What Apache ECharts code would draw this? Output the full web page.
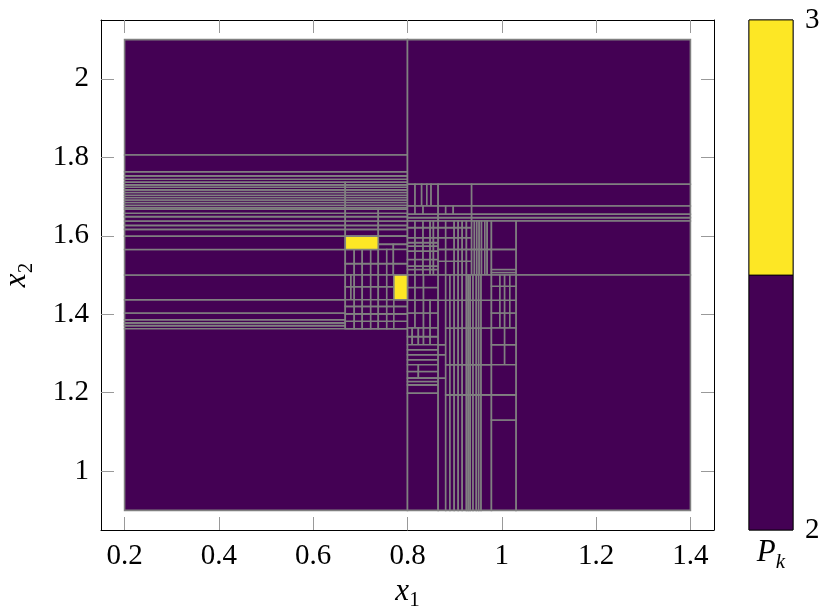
<!DOCTYPE html>
<html>
<head>
<meta charset="utf-8">
<script src="https://cdn.jsdelivr.net/npm/echarts@6.0.0/dist/echarts.min.js"></script>
<style>
  html, body { margin: 0; padding: 0; background: #fff; }
  #chart { width: 831px; height: 612px; }
</style>
</head>
<body>
<div id="chart"></div>
<script>
// tick labels
const xTicks = [0.2, 0.4, 0.6, 0.8, 1, 1.2, 1.4];
const yTicks = [1, 1.2, 1.4, 1.6, 1.8, 2];

// partition blocks: [x cuts, y cuts], every cell between cuts has P = 2
const leftBlocks = [
  [[0.2, 0.8], [1.806, 2.1]],
  [[0.2, 0.8], [1.7366, 1.7442, 1.7527, 1.763, 1.806]],
  [[0.2, 0.668, 0.8], [1.6675, 1.6719, 1.6777, 1.6847, 1.6913, 1.6974, 1.7033, 1.7102, 1.7169, 1.7238, 1.7297, 1.7366]],
  [[0.2, 0.668], [1.363, 1.371, 1.378, 1.386, 1.403, 1.437, 1.5, 1.565, 1.599, 1.6164, 1.6266, 1.6376, 1.6488, 1.6573, 1.6675]],
  [[0.2, 0.8], [0.9, 1.363]],
  [[0.668, 0.738, 0.8], [1.599, 1.6164, 1.6266, 1.6376, 1.6488, 1.6573, 1.6675]],
  [[0.738, 0.8], [1.578, 1.599]],
  [[0.738, 0.770, 0.8], [1.565, 1.578]],
  [[0.668, 0.687, 0.704, 0.722, 0.738, 0.756, 0.770, 0.8], [1.5, 1.529, 1.565]],
  [[0.668, 0.680, 0.687, 0.704, 0.722, 0.738, 0.756, 0.771], [1.437, 1.470, 1.5]],
  [[0.668, 0.687, 0.704, 0.722, 0.738, 0.756, 0.771, 0.8], [1.363, 1.382, 1.401, 1.420, 1.437]]
];

const rightTopBlocks = [
  [[0.8, 1.4], [1.7315, 2.1]],
  [[0.8, 0.816, 0.830, 0.841, 0.850, 0.865, 0.936, 1.4], [1.676, 1.7315]],
  [[0.8, 0.816, 0.833, 0.865, 0.881, 0.897, 0.936, 1.4], [1.6547, 1.676]],
  [[0.8, 0.865, 0.936, 1.4], [1.6376, 1.6463, 1.6547]],
  [[1.03, 1.4], [1.5, 1.6376]],
  [[1.03, 1.4], [0.9, 1.5]],
  [[0.8, 0.816, 0.833, 0.848, 0.855, 0.865], [1.5, 1.5141, 1.5225, 1.5396, 1.5609, 1.5737, 1.5824, 1.5951, 1.6207, 1.6376]],
  [[0.865, 0.881, 0.899, 0.9075, 0.916, 0.925, 0.936], [1.5, 1.5352, 1.5652, 1.5951, 1.6207, 1.6376]],
  [[0.936, 0.942, 0.947, 0.952, 0.957, 0.964], [1.5, 1.5652, 1.6376]],
  [[0.964, 0.969, 0.978], [1.5, 1.5652, 1.6376]],
  [[0.978, 1.03], [1.5, 1.5064, 1.5141, 1.5652, 1.6376]]
];

const rightLowBlocks = [
  [[0.8, 0.816, 0.834, 0.865], [1.4356, 1.468, 1.5]],
  [[0.8, 0.816, 0.834, 0.848, 0.865], [1.365, 1.4033, 1.4356]],
  [[0.8, 0.81, 0.823, 0.834, 0.848, 0.865], [1.3223, 1.343, 1.365]],
  [[0.8, 0.865], [1.2711, 1.2839, 1.2967, 1.3095, 1.3223]],
  [[0.8, 0.823, 0.865], [1.2371, 1.254, 1.2711]],
  [[0.8, 0.865], [1.1987, 1.2199, 1.2284, 1.2371]],
  [[0.8, 0.865], [0.9, 1.1987]],
  [[0.865, 0.881], [0.9, 1.2371, 1.2967, 1.3223, 1.4356, 1.5]],
  [[0.881, 0.890, 0.899, 0.9075, 0.916, 0.925, 0.929, 0.933, 0.939, 0.946, 0.951, 0.956, 0.978], [0.9, 1.1944, 1.2711, 1.365, 1.4356, 1.5]],
  [[0.978, 0.996, 1.006, 1.017, 1.03], [1.365, 1.4033, 1.4356, 1.4714, 1.5]],
  [[0.978, 1.006, 1.03], [1.2711, 1.3223, 1.365]],
  [[0.978, 1.03], [0.9, 1.1304, 1.1944, 1.2711]]
];

// cells with P = 3: [x0, x1, y0, y1]
const yellowCells = [
  [0.668, 0.738, 1.565, 1.599],
  [0.771, 0.8, 1.437, 1.5]
];

// colour bar
const barCells = [[0, 1, 2, 2.5, 2], [0, 1, 2.5, 3, 3]];

const PURPLE = '#440154';
const YELLOW = '#fde725';
const FONT = 'Liberation Serif';

const cells = [];
[leftBlocks, rightTopBlocks, rightLowBlocks].forEach(function (list) {
  list.forEach(function (b) {
    const xs = b[0], ys = b[1];
    for (let i = 0; i < xs.length - 1; i++) {
      for (let j = 0; j < ys.length - 1; j++) {
        cells.push([xs[i], xs[i + 1], ys[j], ys[j + 1], 2]);
      }
    }
  });
});
yellowCells.forEach(function (c) { cells.push([c[0], c[1], c[2], c[3], 3]); });

function rectItem(stroke, lw) {
  return function (params, api) {
    const p0 = api.coord([api.value(0), api.value(3)]);
    const p1 = api.coord([api.value(1), api.value(2)]);
    return {
      type: 'rect',
      shape: { x: p0[0], y: p0[1], width: p1[0] - p0[0], height: p1[1] - p0[1] },
      style: { fill: api.value(4) > 2.5 ? YELLOW : PURPLE, stroke: stroke, lineWidth: lw }
    };
  };
}

const nameRich = {
  a: { fontFamily: FONT, fontStyle: 'italic', fontSize: 31, lineHeight: 40, color: '#000' },
  b: { fontFamily: FONT, fontSize: 21, lineHeight: 21, verticalAlign: 'bottom', color: '#000' },
  k: { fontFamily: FONT, fontStyle: 'italic', fontSize: 21, lineHeight: 21, verticalAlign: 'bottom', color: '#000' }
};

const tickStyle = { inside: true, length: 13, lineStyle: { color: '#999', width: 1 } };
const lineStyle = { onZero: false, lineStyle: { color: '#000', width: 1 } };
const labelStyle = { fontFamily: FONT, fontSize: 29, color: '#000' };

const chart = echarts.init(document.getElementById('chart'));
chart.setOption({
  animation: false,
  grid: [
    { left: 101, top: 20, width: 613, height: 510, outerBoundsMode: 'none', containLabel: false },
    { left: 749, top: 20, width: 44, height: 510, outerBoundsMode: 'none', containLabel: false,
      show: true, borderColor: '#000', borderWidth: 1 }
  ],
  xAxis: [
    {
      gridIndex: 0, type: 'value', min: 0.15, max: 1.45, position: 'bottom',
      axisLine: lineStyle,
      axisTick: Object.assign({ customValues: xTicks }, tickStyle),
      axisLabel: Object.assign({ customValues: xTicks, margin: 12 }, labelStyle),
      splitLine: { show: false },
      name: '{a|x}{b|1}', nameLocation: 'middle', nameGap: 40,
      nameTextStyle: { rich: nameRich }
    },
    {
      gridIndex: 0, type: 'value', min: 0.15, max: 1.45, position: 'top',
      axisLine: lineStyle,
      axisTick: Object.assign({ customValues: xTicks }, tickStyle),
      axisLabel: { show: false }, splitLine: { show: false }
    },
    {
      gridIndex: 1, type: 'value', min: 0, max: 1,
      axisLine: { show: false }, axisTick: { show: false }, axisLabel: { show: false },
      splitLine: { show: false },
      name: '{a|P}{k|k}', nameLocation: 'middle', nameGap: 3,
      nameTextStyle: { rich: nameRich }
    }
  ],
  yAxis: [
    {
      gridIndex: 0, type: 'value', min: 0.85, max: 2.15, position: 'left',
      axisLine: lineStyle,
      axisTick: Object.assign({ customValues: yTicks }, tickStyle),
      axisLabel: Object.assign({ customValues: yTicks, margin: 12 }, labelStyle),
      splitLine: { show: false },
      name: '{a|x}{b|2}', nameLocation: 'middle', nameGap: 64,
      nameTextStyle: { rich: nameRich }
    },
    {
      gridIndex: 0, type: 'value', min: 0.85, max: 2.15, position: 'right',
      axisLine: lineStyle,
      axisTick: Object.assign({ customValues: yTicks }, tickStyle),
      axisLabel: { show: false }, splitLine: { show: false }
    },
    {
      gridIndex: 1, type: 'value', min: 2, max: 3, interval: 1, position: 'right',
      axisLine: { show: false }, axisTick: { show: false },
      axisLabel: Object.assign({ margin: 12 }, labelStyle),
      splitLine: { show: false }
    }
  ],
  series: [
    {
      type: 'custom', xAxisIndex: 0, yAxisIndex: 0,
      renderItem: rectItem('#808080', 1.6),
      encode: { x: [0, 1], y: [2, 3] },
      data: cells, silent: true
    },
    {
      type: 'custom', xAxisIndex: 2, yAxisIndex: 2,
      renderItem: rectItem('#000', 0.8),
      encode: { x: [0, 1], y: [2, 3] },
      data: barCells, silent: true
    }
  ]
});
</script>
</body>
</html>
